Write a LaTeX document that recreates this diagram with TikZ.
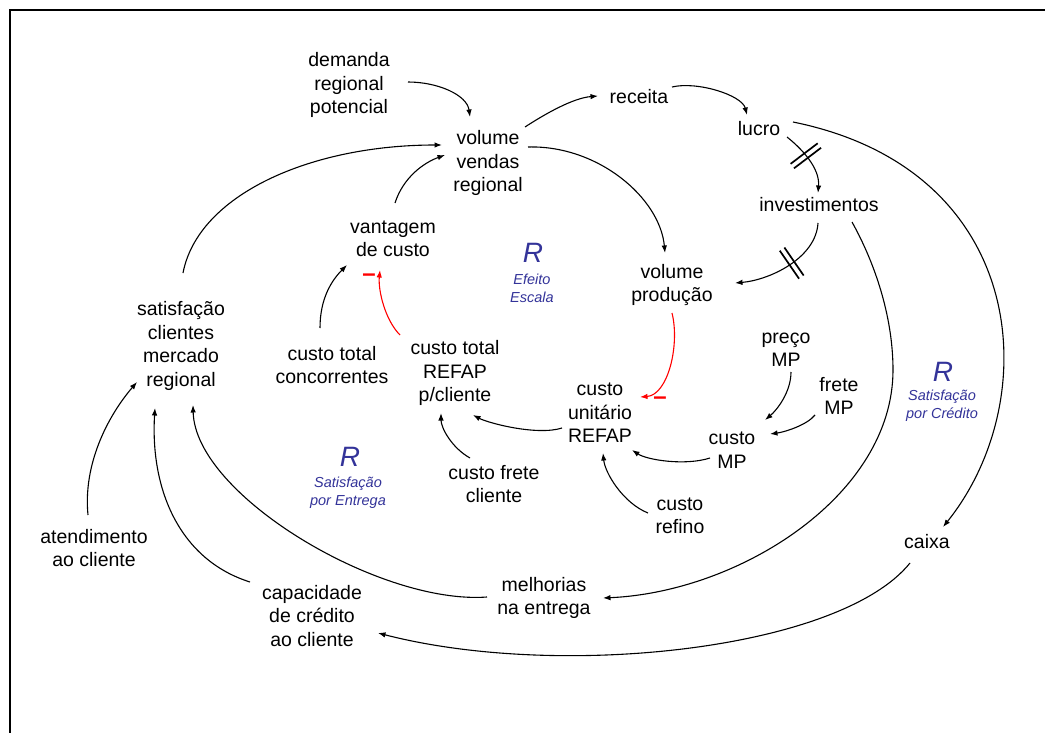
\documentclass[tikz,border=0pt]{standalone}
\usepackage{fontspec}
\setmainfont{Liberation Sans}
\usetikzlibrary{arrows.meta,calc,decorations.markings}
\definecolor{loopblue}{RGB}{51,51,153}

\begin{document}
\begin{tikzpicture}[x=1pt,y=-1pt,
  var/.style={align=center,inner sep=1pt,font=\fontsize{19.5}{23.5}\selectfont},
  link/.style={line width=1.1pt,-{Latex[length=7.5pt,width=5.5pt]}},
  neg/.style={link,red},
  loopR/.style={text=loopblue,inner sep=0pt,font=\fontsize{28}{30}\selectfont\itshape},
  loopname/.style={text=loopblue,align=center,inner sep=0pt,font=\fontsize{14.5}{18}\selectfont\itshape},
  minus/.style={text=red,inner sep=0pt,anchor=base,font=\fontsize{24}{24}\selectfont\bfseries},
  delay/.style={postaction={decorate,decoration={markings,mark=at position #1 with
      {\draw[line width=1.7pt,-] (-2.8,-17)--(-2.8,17) (2.8,-17)--(2.8,17);}}}}
]
\useasboundingbox (0,0) rectangle (1045,733);
% frame
\draw[line width=2.5pt] (10,733) -- (10,10) -- (1045,10);

% variables
\node[var] (dem) at (349,85)  {demanda\\regional\\potencial};
\node[var] (vvr) at (488,163) {volume\\vendas\\regional};
\node[var] (rec) at (639,97)  {receita};
\node[var] (luc) at (759,129) {lucro};
\node[var] (inv) at (819,205) {investimentos};
\node[var] (vpr) at (672,285) {volume\\produção};
\node[var] (van) at (393,239) {vantagem\\de custo};
\node[var] (sat) at (181,346) {satisfação\\clientes\\mercado\\regional};
\node[var] (ctc) at (332,365) {custo total\\concorrentes};
\node[var] (ctr) at (455,373) {custo total\\REFAP\\p/cliente};
\node[var] (cun) at (600,413) {custo\\unitário\\REFAP};
\node[var] (pmp) at (786,350) {preço\\MP};
\node[var] (fmp) at (839,396) {frete\\MP};
\node[var] (cmp) at (732,450) {custo\\MP};
\node[var] (cfc) at (494,484) {custo frete\\cliente};
\node[var] (cre) at (680,516) {custo\\refino};
\node[var] (ate) at (94,548)  {atendimento\\ao cliente};
\node[var] (cai) at (927,542) {caixa};
\node[var] (cap) at (312,616) {capacidade\\de crédito\\ao cliente};
\node[var] (mel) at (544,598) {melhorias\\na entrega};

% loop labels
\node[loopR] (r1) at (533,253) {R};
\node[loopname] (l1) at (532,288) {Efeito\\Escala};
\node[loopR] (r2) at (943,372) {R};
\node[loopname] (l2) at (942,406) {Satisfação\\por Crédito};
\node[loopR] (r3) at (350,457) {R};
\node[loopname] (l3) at (348,493) {Satisfação\\por Entrega};

% polarity marks
\node[minus] (m1) at (369,281.5) {–};
\node[minus] (m2) at (660,404.5) {–};

% links
\draw[link] ($(dem)+(59,-3)$) .. controls +(30,0) and +(-3,-22) .. ($(vvr)+(-18,-46)$);
\draw[link] ($(sat)+(2,-73)$) .. controls +(15,-78) and +(-132,0) .. ($(vvr)+(-46,-18)$);
\draw[link] ($(van)+(2,-36)$) .. controls +(8,-25) and +(-22,8) .. ($(vvr)+(-43,-8)$);
\draw[link] ($(vvr)+(37,-36)$) .. controls +(20,-13) and +(-25,2) .. ($(rec)+(-41,-1)$);
\draw[link] ($(rec)+(33,-10)$) .. controls +(25,-6) and +(-5,-20) .. ($(luc)+(-12,-14)$);
\draw[link,delay=0.4] ($(luc)+(28,8)$) .. controls +(15,12) and +(2,-25) .. ($(inv)+(-1,-12)$);
\draw[link,delay=0.45] ($(inv)+(-1,18)$) .. controls +(-2,35) and +(35,-3) .. ($(vpr)+(63,-2)$);
\draw[link] ($(vvr)+(40,-16)$) .. controls +(70,-2) and +(-5,-55) .. ($(vpr)+(-7,-32)$);
\draw[link] ($(luc)+(34,-7)$) .. controls +(237,48) and +(102,-127) .. ($(cai)+(16,-15)$);
\draw[link] ($(inv)+(33,17)$) .. controls +(25,45) and +(0,-50) .. ($(inv)+(74,165)$)
      .. controls +(0,125) and +(137,-6) .. ($(mel)+(59,0)$);
\draw[link] ($(cai)+(-17,21)$) .. controls +(-70,87) and +(182,47) .. ($(cap)+(66,17)$);
\draw[link] ($(mel)+(-57,-1)$) .. controls +(-107,8) and +(2,90) .. ($(sat)+(12,59)$);
\draw[link] ($(cap)+(-62,-34)$) .. controls +(-70,-22) and +(-5,82) .. ($(sat)+(-26,62)$);
\draw[link] ($(ate)+(-6,-33)$) .. controls +(-5,-50) and +(-30,35) .. ($(sat)+(-44,36)$);
\draw[link] ($(ctc)+(-12,-37)$) .. controls +(0,-30) and +(-15,15) .. ($(van)+(-46,26)$);
\draw[neg] ($(ctr)+(-55,-38)$) .. controls +(-15,-15) and +(-2,20) .. ($(van)+(-13,31)$);
\draw[neg] ($(vpr)+(0,28)$) .. controls +(8,32) and +(28,-2) .. ($(cun)+(40,-16)$);
\draw[link] ($(cun)+(-38,15)$) .. controls +(-25,8) and +(15,8) .. ($(ctr)+(18,42)$);
\draw[link] ($(cfc)+(-24,-26)$) .. controls +(-18,-10) and +(0,15) .. ($(ctr)+(-14,40)$);
\draw[link] ($(cmp)+(-22,8)$) .. controls +(-25,8) and +(15,10) .. ($(cun)+(32,37)$);
\draw[link] ($(cre)+(-32,-3)$) .. controls +(-25,-10) and +(2,20) .. ($(cun)+(3,40)$);
\draw[link] ($(pmp)+(5,22)$) .. controls +(0,20) and +(12,-10) .. ($(cmp)+(33,-30)$);
\draw[link] ($(fmp)+(-24,19)$) .. controls +(-8,10) and +(15,-2) .. ($(cmp)+(38,-16)$);
\end{tikzpicture}
\end{document}
